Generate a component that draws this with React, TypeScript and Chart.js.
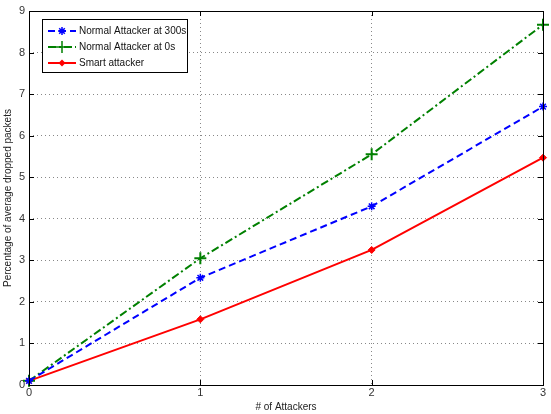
import React, { useEffect, useRef } from "react";
import { Chart, registerables } from "chart.js";

Chart.register(...registerables);

const attackers = [0, 1, 2, 3];
const normal300 = [0.1, 2.58, 4.3, 6.7];
const normal0 = [0.1, 3.05, 5.55, 8.67];
const smart = [0.1, 1.58, 3.25, 5.47];
const seriesNames = ["Normal Attacker at 300s", "Normal Attacker at 0s", "Smart attacker"];

const FONT = "'Liberation Sans', Arial, sans-serif";

const boxPlugin = {
  id: "boxPlugin",
  afterDraw(chart: any) {
    const { ctx, chartArea: a, scales } = chart;
    ctx.save();
    ctx.strokeStyle = "#000";
    ctx.lineWidth = 1;
    ctx.setLineDash([]);
    ctx.strokeRect(Math.round(a.left) + 0.5, Math.round(a.top) + 0.5, Math.round(a.right - a.left), Math.round(a.bottom - a.top));
    const tl = 5;
    ctx.beginPath();
    scales.y.ticks.forEach((t: any) => {
      const y = Math.round(scales.y.getPixelForValue(t.value)) + 0.5;
      ctx.moveTo(a.left, y); ctx.lineTo(a.left + tl, y);
      ctx.moveTo(a.right, y); ctx.lineTo(a.right - tl, y);
    });
    scales.x.ticks.forEach((t: any) => {
      const x = Math.round(scales.x.getPixelForValue(t.value)) + 0.5;
      ctx.moveTo(x, a.bottom); ctx.lineTo(x, a.bottom - tl);
      ctx.moveTo(x, a.top); ctx.lineTo(x, a.top + tl);
    });
    ctx.stroke();

    // legend
    const lx = 42, ly = 19, lw = 145, lh = 53;
    ctx.fillStyle = "#fff";
    ctx.fillRect(lx, ly, lw, lh);
    ctx.strokeRect(lx + 0.5, ly + 0.5, lw, lh);
    ctx.font = `10px ${FONT}`;
    ctx.textBaseline = "middle";
    chart.data.datasets.forEach((ds: any, i: number) => {
      const y = ly + 12 + i * 16;
      ctx.strokeStyle = ds.borderColor;
      ctx.lineWidth = ds.borderWidth;
      ctx.setLineDash(ds.borderDash || []);
      ctx.beginPath();
      ctx.moveTo(lx + 6, y);
      ctx.lineTo(lx + 34, y);
      ctx.stroke();
      ctx.setLineDash([]);
      ctx.lineWidth = 1.5;
      ctx.fillStyle = ds.borderColor;
      const cx = lx + 20;
      const r = ds.pointRadius;
      if (ds.pointStyle === "cross") {
        ctx.beginPath();
        ctx.moveTo(cx - r, y); ctx.lineTo(cx + r, y);
        ctx.moveTo(cx, y - r); ctx.lineTo(cx, y + r);
        ctx.stroke();
      } else if (ds.pointStyle === "star") {
        ctx.beginPath();
        ctx.moveTo(cx - r, y); ctx.lineTo(cx + r, y);
        ctx.moveTo(cx, y - r); ctx.lineTo(cx, y + r);
        ctx.moveTo(cx - r * 0.7, y - r * 0.7); ctx.lineTo(cx + r * 0.7, y + r * 0.7);
        ctx.moveTo(cx - r * 0.7, y + r * 0.7); ctx.lineTo(cx + r * 0.7, y - r * 0.7);
        ctx.stroke();
      } else {
        ctx.beginPath();
        ctx.moveTo(cx, y - r); ctx.lineTo(cx + r, y); ctx.lineTo(cx, y + r); ctx.lineTo(cx - r, y);
        ctx.closePath();
        ctx.fill();
      }
      ctx.fillStyle = "#111";
      ctx.fillText(seriesNames[i], lx + 37, y + 0.5);
    });
    ctx.restore();
  },
};

export default function App() {
  const ref = useRef<HTMLCanvasElement>(null);
  useEffect(() => {
    document.body.style.margin = "0";
    const mk = (d: number[]) => d.map((v, i) => ({ x: attackers[i], y: v }));
    const chart = new Chart(ref.current!, {
      type: "line",
      data: {
        datasets: [
          {
            label: seriesNames[0], data: mk(normal300), borderColor: "#0000ff", backgroundColor: "#0000ff",
            borderWidth: 2, borderDash: [7, 4], pointStyle: "star", pointRadius: 4, pointBorderWidth: 1.5, clip: false,
          },
          {
            label: seriesNames[1], data: mk(normal0), borderColor: "#008000", backgroundColor: "#008000",
            borderWidth: 2, borderDash: [8, 3, 2, 3], pointStyle: "cross", pointRadius: 6, pointBorderWidth: 2, clip: false,
          },
          {
            label: seriesNames[2], data: mk(smart), borderColor: "#ff0000", backgroundColor: "#ff0000",
            borderWidth: 2, pointStyle: "rectRot", pointRadius: 3.5, pointBorderWidth: 1, clip: false,
          },
        ] as any,
      },
      options: {
        animation: false,
        responsive: false,
        layout: { padding: { top: 11, right: 3, left: 0, bottom: 0 } },
        plugins: { legend: { display: false }, tooltip: { enabled: false } },
        scales: {
          x: {
            type: "linear", min: 0, max: 3,
            ticks: { stepSize: 1, color: "#333", font: { family: FONT, size: 11 }, padding: 1 },
            grid: { color: "#888", drawTicks: false, tickBorderDash: [], lineWidth: 1 } as any,
            border: { display: false, dash: [1, 3] } as any,
            title: { display: true, text: "# of Attackers", color: "#222", font: { family: FONT, size: 10 }, padding: { top: 0, bottom: 1 } },
            afterFit: (s: any) => { s.height = 29; },
          },
          y: {
            min: 0, max: 9,
            ticks: { stepSize: 1, color: "#333", font: { family: FONT, size: 11 }, padding: 4 },
            grid: { color: "#888", drawTicks: false } as any,
            border: { display: false, dash: [1, 3] } as any,
            title: { display: true, text: "Percentage of average dropped packets", color: "#222", font: { family: FONT, size: 10 }, padding: { top: 2, bottom: 0 } },
            afterFit: (s: any) => { s.width = 29; },
          },
        },
      },
      plugins: [boxPlugin],
    });
    return () => chart.destroy();
  }, []);
  return <canvas ref={ref} width={551} height={414} style={{ display: "block" }} />;
}
